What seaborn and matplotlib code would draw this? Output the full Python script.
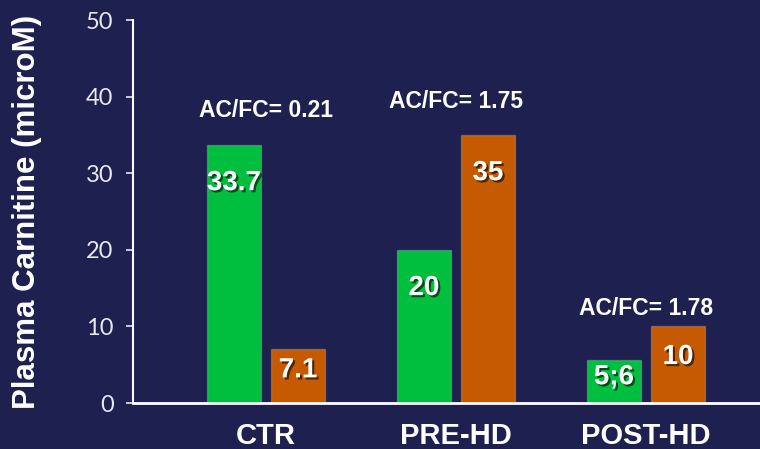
import numpy as np
import pandas as pd
import seaborn as sns
import matplotlib.pyplot as plt
import matplotlib.patheffects as pe

# data
groups = ["CTR", "PRE-HD", "POST-HD"]
free_carn = [33.7, 20, 5.6]      # green bars
acyl_carn = [7.1, 35, 10]        # orange bars
value_text_green = ["33.7", "20", "5;6"]
value_text_orange = ["7.1", "35", "10"]
ratio_text = ["AC/FC= 0.21", "AC/FC= 1.75", "AC/FC= 1.78"]

df = pd.DataFrame({
    "group": groups * 2,
    "series": ["FC"] * 3 + ["AC"] * 3,
    "value": free_carn + acyl_carn,
})

bg = "#1e2150"
green = "#00bf3f"
orange = "#c55a00"

sns.set_theme(style="white")
plt.rcParams['font.family'] = ['Liberation Sans', 'DejaVu Sans']

fig = plt.figure(figsize=(7.6, 4.49), dpi=100, facecolor=bg)
ax = fig.add_axes([0.175, 0.1024, 0.825, 0.853])
ax.set_facecolor(bg)

sns.barplot(data=df, x="group", y="value", hue="series", order=groups,
            hue_order=["FC", "AC"], palette=[green, orange], width=0.674,
            gap=0.17, legend=False, ax=ax, saturation=1)

for bar in ax.patches:
    bar.set_edgecolor("#ffffff35")
    bar.set_linewidth(1.0)

shadow = [pe.SimplePatchShadow(offset=(1.5, -1.5), shadow_rgbFace="black", alpha=0.6), pe.Normal()]

# value labels inside the bars
labels = value_text_green + value_text_orange
for bar, txt in zip(ax.patches, labels):
    h = bar.get_height()
    y = h - 5 if h > 15 else h * 0.6
    ax.text(bar.get_x() + bar.get_width() / 2, y, txt, ha="center", va="center",
            color="white", fontsize=20, fontweight="bold", path_effects=shadow)

# AC/FC ratio labels above each group
label_pad = [3, 2.9, 0.8]
for i, txt in enumerate(ratio_text):
    top = max(free_carn[i], acyl_carn[i])
    ax.text(i, top + label_pad[i], txt, ha="center", va="bottom",
            color="white", fontsize=16.5, fontweight="bold")

ax.set_ylim(0, 50)
ax.set_xlim(-0.7, 2.6)
ax.set_yticks([0, 10, 20, 30, 40, 50])
ax.set_xlabel("")
ax.set_ylabel("Plasma Carnitine (microM)", color="white", fontsize=22.5, fontweight="bold")
ax.yaxis.set_label_coords(-0.145, 0.5)

for s in ["top", "right"]:
    ax.spines[s].set_visible(False)
ax.spines["left"].set_color("white")
ax.spines["left"].set_linewidth(1.5)
ax.spines["bottom"].set_color("white")
ax.spines["bottom"].set_linewidth(2)

ax.tick_params(axis="y", colors="#e8e8ee", labelsize=17, length=5, width=1.2,
               direction="out", pad=9, left=True)
ax.tick_params(axis="x", colors="white", labelsize=21, length=0, pad=14)
for t in ax.get_yticklabels():
    t.set_family(["Lato", "DejaVu Sans"])
for t in ax.get_xticklabels():
    t.set_fontweight("bold")

fig.savefig("out.png", dpi=100, facecolor=bg)
